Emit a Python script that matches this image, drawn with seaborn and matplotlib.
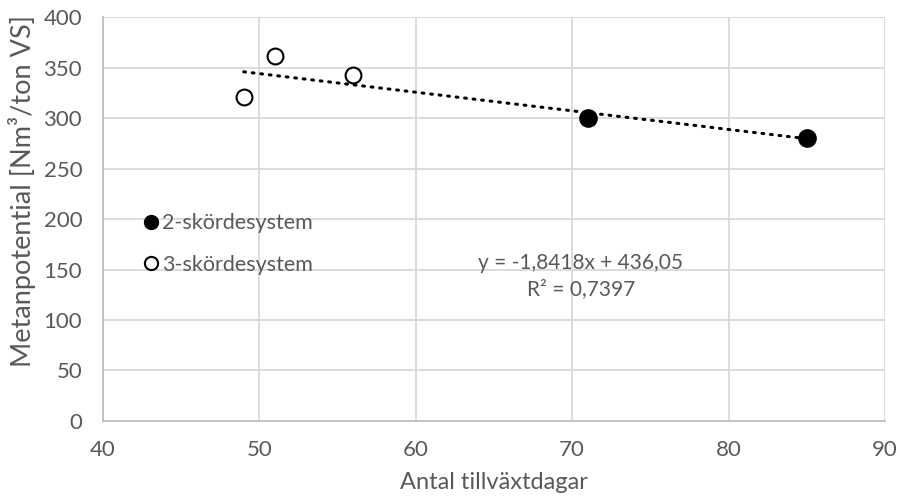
import matplotlib
matplotlib.use("Agg")
import matplotlib.pyplot as plt
import seaborn as sns
import numpy as np
import pandas as pd
from matplotlib.lines import Line2D

# Two-cut system
days_2 = [71, 85]
methane_2 = [300, 280]
# Three-cut system
days_3 = [49, 51, 56]
methane_3 = [321, 361, 343]

# Linear trend across all points
slope = -1.8418
intercept = 436.05
r2 = 0.7397

series_names = ["2-skördesystem", "3-skördesystem"]
x_ticks = [40, 50, 60, 70, 80, 90]
y_ticks = [0, 50, 100, 150, 200, 250, 300, 350, 400]

sns.set_theme(style="whitegrid")
plt.rcParams["font.family"] = ["Lato", "DejaVu Sans"]
text_col = "#595959"
grid_col = "#d9d9d9"

df = pd.DataFrame({
    "days": days_2 + days_3,
    "methane": methane_2 + methane_3,
    "system": [series_names[0]] * len(days_2) + [series_names[1]] * len(days_3),
})

fig = plt.figure(figsize=(9, 5.01), dpi=100)
ax = fig.add_axes([0.1144, 0.1597, 0.8689, 0.8063])

# trend line
all_x = days_2 + days_3
tx = np.array([min(all_x), max(all_x)])
ax.plot(tx, slope * tx + intercept, color="black", lw=2.2,
        linestyle=(0, (0.6, 2.2)), dash_capstyle="round", zorder=2)

sns.scatterplot(data=df[df.system == series_names[0]], x="days", y="methane",
                color="black", edgecolor="black", s=150, linewidth=1.2,
                ax=ax, legend=False, zorder=3)
sns.scatterplot(data=df[df.system == series_names[1]], x="days", y="methane",
                color="white", edgecolor="black", s=130, linewidth=1.5,
                ax=ax, legend=False, zorder=3)

ax.set_xlim(40, 90)
ax.set_ylim(0, 400)
ax.set_xticks(x_ticks)
ax.set_yticks(y_ticks)
ax.grid(True, color=grid_col, lw=1.3)
for s in ["top", "right"]:
    ax.spines[s].set_visible(False)
for s in ["left", "bottom"]:
    ax.spines[s].set_color("#bfbfbf")
    ax.spines[s].set_linewidth(1.3)
ax.tick_params(axis="x", labelsize=16, colors=text_col, length=0, pad=14)
ax.tick_params(axis="y", labelsize=16, colors=text_col, length=0, pad=15)

ax.set_xlabel("Antal tillväxtdagar", fontsize=17, color=text_col, labelpad=8)
ax.set_ylabel("Metanpotential [Nm³/ton VS]", fontsize=19.5, color=text_col)
ax.yaxis.set_label_coords(-0.086, 0.569)

handles = [
    Line2D([], [], marker="o", linestyle="none", markersize=10,
           markerfacecolor="black", markeredgecolor="black"),
    Line2D([], [], marker="o", linestyle="none", markersize=9.5,
           markerfacecolor="white", markeredgecolor="black", markeredgewidth=1.5),
]
leg = ax.legend(handles, series_names, loc="upper left",
                bbox_to_anchor=(0.043, 0.535), frameon=False, fontsize=15.5,
                handlelength=0.5, handletextpad=0.3, labelspacing=1.0,
                borderaxespad=0)
for t in leg.get_texts():
    t.set_color(text_col)

ax.text(0.611, 0.391, f"y = {slope:.4f}x + {intercept:.2f}".replace(".", ","),
        transform=ax.transAxes, ha="center", va="center", fontsize=15, color=text_col)
ax.text(0.611, 0.327, f"R² = {r2:.4f}".replace(".", ","),
        transform=ax.transAxes, ha="center", va="center", fontsize=15, color=text_col)

fig.savefig("out.png", dpi=100)
